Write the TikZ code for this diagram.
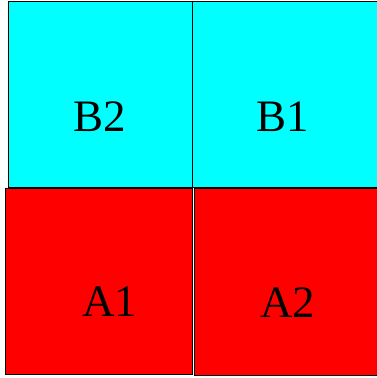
\documentclass[tikz,border=0pt]{standalone}
\usepackage{fontspec}
\setmainfont{Liberation Serif}
\definecolor{aqua}{RGB}{0,255,255}
\definecolor{pure red}{RGB}{255,0,0}
\begin{document}
\begin{tikzpicture}[x=1pt,y=1pt,
  cell/.style={draw=black,line width=1pt,inner sep=0pt},
  bcell/.style={cell,fill=aqua},
  acell/.style={cell,fill=pure red},
  lab/.style={anchor=base,inner sep=0pt,font=\fontsize{45}{50}\selectfont}]
\useasboundingbox (0,0) rectangle (377,378);
\clip (0,0) rectangle (377,378);
\path[bcell] (8,376) rectangle (192,190);
\path[bcell] (192,376) rectangle (395,190);
\path[acell] (5,189.5) rectangle (192.5,3);
\path[acell] (194,189.5) rectangle (395,2.7);
\node[lab] (b2) at (100,246) {B2};
\node[lab] (b1) at (283,246) {B1};
\node[lab] (a1) at (110,61) {A1};
\node[lab] (a2) at (287.5,60) {A2};
\end{tikzpicture}
\end{document}
